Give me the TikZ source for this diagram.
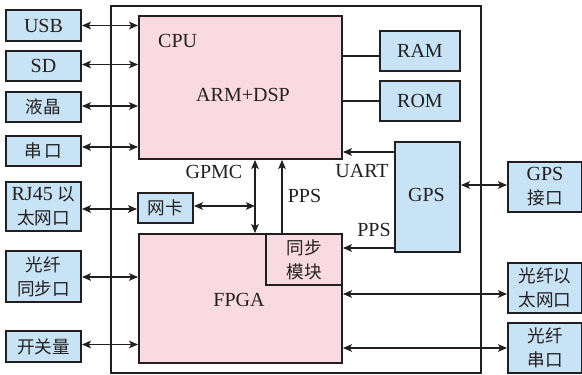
\documentclass[tikz,border=0pt]{standalone}
\usepackage{fontspec}
\setmainfont{Liberation Serif}
\newfontfamily\cjk{Noto Sans CJK SC}[Scale=0.88]
\newcommand{\zh}[1]{{\cjk #1}}
\usetikzlibrary{arrows.meta}
\definecolor{boxblue}{RGB}{200,227,245}
\definecolor{boxpink}{RGB}{250,218,226}
\definecolor{ink}{RGB}{35,31,32}
\tikzset{
  tipx/.tip={Stealth[length=9pt,width=7.5pt,inset=2pt]},
}
\begin{document}
\begin{tikzpicture}[x=1pt,y=-1pt,
  every node/.style={font=\fontsize{20}{25}\selectfont, text=ink},
  bbox/.style={draw=ink, line width=1.8pt, fill=boxblue, inner sep=0pt, align=center},
  pbox/.style={draw=ink, line width=1.8pt, fill=boxpink, inner sep=0pt, align=center},
  frame/.style={draw=ink, line width=1.5pt, inner sep=0pt},
  link/.style={draw=ink, line width=1.6pt},
  both/.style={link, tipx-tipx},
  one/.style={link, -tipx},
  lbl/.style={inner sep=0pt}]
\useasboundingbox (0,0) rectangle (582,375);
% outer board
\node[frame, minimum width=370, minimum height=367] (board) at (296,189.5) {};
% left boxes
\node[bbox, minimum width=75, minimum height=31] (usb) at (43.5,25.5) {USB};
\node[bbox, minimum width=75, minimum height=30] (sd) at (43.5,66) {SD};
\node[bbox, minimum width=75, minimum height=30] (lcd) at (43.5,107) {\zh{液晶}};
\node[bbox, minimum width=75, minimum height=30] (uart) at (43.5,151) {\zh{串\,口}};
\node[bbox, minimum width=75, minimum height=49] (rj) at (43.5,206.5) {RJ45 \zh{以}\\[-1pt]\zh{太网口}};
\node[bbox, minimum width=75, minimum height=51] (fsync) at (43.5,276.5) {\zh{光纤}\\[-1pt]\zh{同步口}};
\node[bbox, minimum width=75, minimum height=31] (sw) at (43.5,346.5) {\zh{开关量}};
% core
\node[pbox, minimum width=203, minimum height=143] (cpu) at (240.5,87.5) {};
\node[pbox, minimum width=203, minimum height=129] (fpga) at (240.5,298.5) {};
\node[pbox, minimum width=76, minimum height=51] (sync) at (304,259.5) {\zh{同步}\\[-1pt]\zh{模块}};
\node[bbox, minimum width=55, minimum height=30] (nic) at (165.5,208) {\zh{网卡}};
\node[bbox, minimum width=80, minimum height=40] (ram) at (420,51) {RAM};
\node[bbox, minimum width=80, minimum height=40] (rom) at (420,101) {ROM};
\node[bbox, minimum width=65, minimum height=110] (gps) at (427.5,197) {};
% right boxes
\node[bbox, minimum width=74, minimum height=50] (gpsif) at (545,187) {GPS\\[-1pt]\zh{接口}};
\node[bbox, minimum width=74, minimum height=50] (feth) at (545,288) {\zh{光纤以}\\[-1pt]\zh{太网口}};
\node[bbox, minimum width=74, minimum height=50] (fser) at (545,348) {\zh{光纤}\\[-1pt]\zh{串口}};
% labels
\node[lbl, anchor=west] (tcpu) at (158,41) {CPU};
\node[lbl] (tarm) at (243,95) {ARM+DSP};
\node[lbl] (tfpga) at (239,300) {FPGA};
\node[lbl] (tgps) at (426.5,195) {GPS};
\node[lbl] (tgpmc) at (214,172) {GPMC};
\node[lbl] (tpps1) at (304.5,196) {PPS};
\node[lbl] (tuart) at (362,171) {UART};
\node[lbl] (tpps2) at (374,230) {PPS};
% left connectors
\draw[both] (usb.east) -- (cpu.west |- usb.east);
\draw[both] (sd.east |- 0,64.5) -- (cpu.west |- 0,64.5);
\draw[both] (lcd.east |- 0,106) -- (cpu.west |- 0,106);
\draw[both] (uart.east |- 0,147) -- (cpu.west |- 0,147);
\draw[both] (rj.east |- 0,209) -- (nic.west |- 0,209);
\draw[both] (fsync.east |- 0,277) -- (fpga.west |- 0,277);
\draw[both] (sw.east |- 0,344.5) -- (fpga.west |- 0,344.5);
% memory
\draw[link] (cpu.east |- 0,56) -- (ram.west |- 0,56);
\draw[link] (cpu.east |- rom.west) -- (rom.west);
% bus
\coordinate (gx) at (255,0);
\coordinate (px) at (282,0);
\draw[both] (cpu.south -| gx) -- (fpga.north -| gx);
\draw[link, tipx-tipx] (nic.east |- 0,206) -- (gx |- 0,206);
\draw[one] (sync.north -| px) -- (cpu.south -| px);
% GPS
\draw[one] (gps.west |- 0,152) -- (cpu.east |- 0,152);
\draw[one] (gps.west |- 0,248) -- (sync.east |- 0,248);
\draw[both] (gps.east |- 0,185) -- (gpsif.west |- 0,185);
% right connectors
\draw[both] (fpga.east |- 0,294) -- (feth.west |- 0,294);
\draw[both] (fpga.east |- 0,348) -- (fser.west |- 0,348);
\end{tikzpicture}
\end{document}
